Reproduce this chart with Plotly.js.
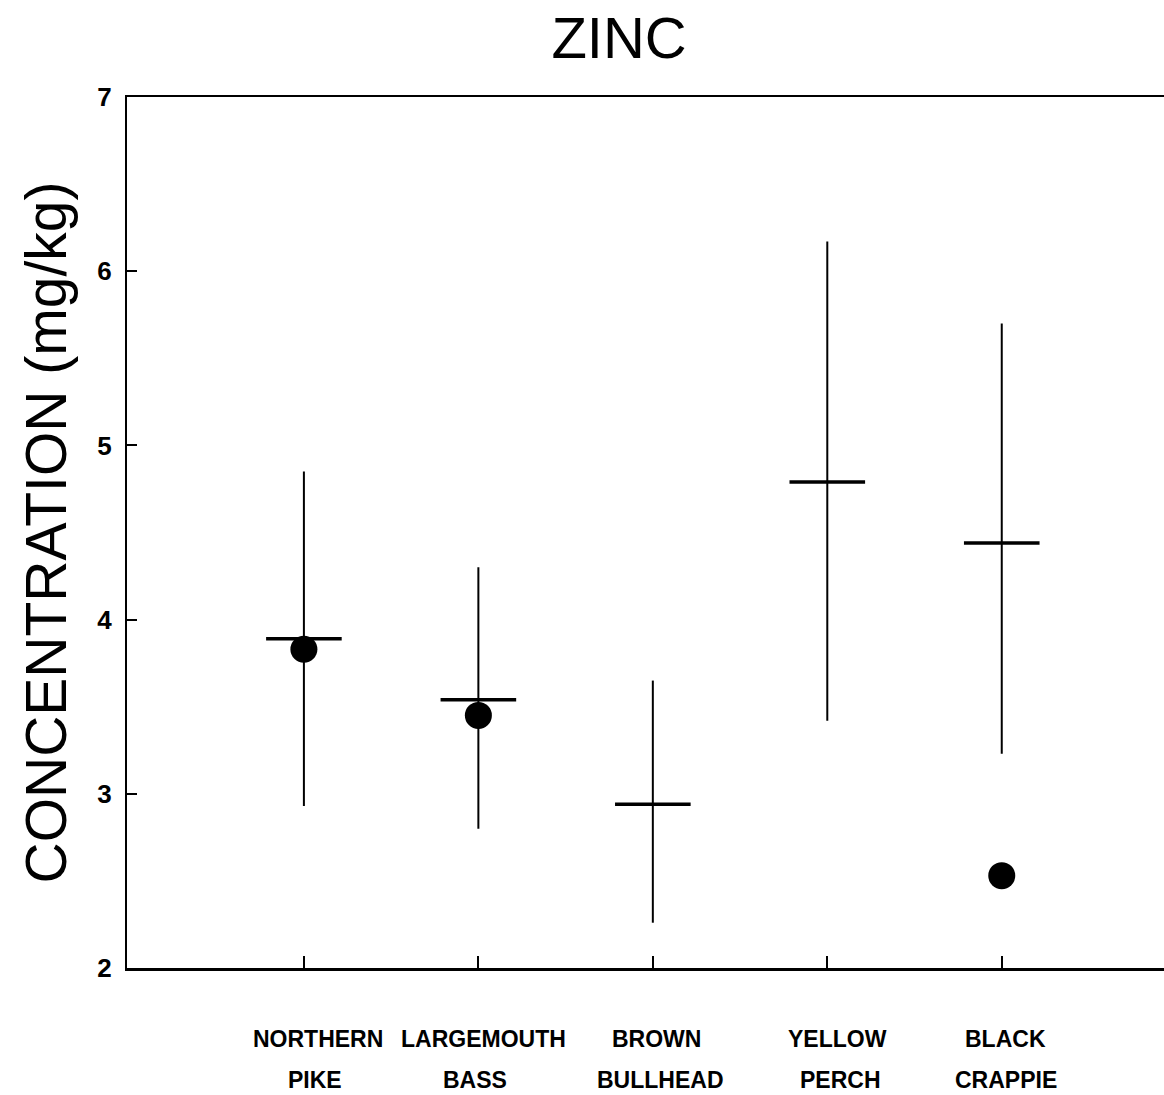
<!DOCTYPE html>
<html>
<head>
<meta charset="utf-8">
<script src="https://cdn.plot.ly/plotly-3.0.1.min.js"></script>
<style>html,body{margin:0;padding:0;background:#fff;}</style>
</head>
<body>
<div id="chart" style="width:1164px;height:1095px;"></div>
<script>
// Data
const species_line1 = ["NORTHERN", "LARGEMOUTH", "BROWN", "YELLOW", "BLACK"];
const species_line2 = ["PIKE", "BASS", "BULLHEAD", "PERCH", "CRAPPIE"];
const meanValues = [3.89, 3.54, 2.94, 4.79, 4.44];
const highValues = [4.85, 4.30, 3.65, 6.17, 5.70];
const lowValues  = [2.93, 2.80, 2.26, 3.42, 3.23];
const dotValues  = [3.83, 3.45, null, null, 2.53];
const yTicks = [2, 3, 4, 5, 6, 7];

// label placement offsets (pixels), layout only
const shift1 = [14, 5, 4, 10, 4];
const shift2 = [11, -3, 8, 13, 4];

const xIdx = species_line1.map((_, i) => i);

const traceRange = {
  x: xIdx,
  y: meanValues,
  type: "scatter",
  mode: "markers",
  marker: { symbol: "line-ew", size: 54, color: "#000", line: { color: "#000", width: 3.5 } },
  error_y: {
    type: "data",
    symmetric: false,
    array: highValues.map((h, i) => h - meanValues[i]),
    arrayminus: lowValues.map((l, i) => meanValues[i] - l),
    width: 0,
    thickness: 2,
    color: "#000"
  },
  hoverinfo: "skip",
  showlegend: false
};

const traceDots = {
  x: xIdx,
  y: dotValues,
  type: "scatter",
  mode: "markers",
  marker: { symbol: "circle", size: 27, color: "#000" },
  showlegend: false
};

const labelFont = { family: "Liberation Sans, Arial, sans-serif", size: 23, color: "#000", weight: "bold" };
const annotations = [];
xIdx.forEach(i => {
  annotations.push({
    x: i, xref: "x", y: -0.0815, yref: "paper", yanchor: "middle", xanchor: "center",
    xshift: shift1[i], borderpad: 0,
    text: species_line1[i], showarrow: false, font: labelFont
  });
  annotations.push({
    x: i, xref: "x", y: -0.1285, yref: "paper", yanchor: "middle", xanchor: "center",
    xshift: shift2[i], borderpad: 0,
    text: species_line2[i], showarrow: false, font: labelFont
  });
});

const layout = {
  width: 1164,
  height: 1095,
  paper_bgcolor: "#fff",
  plot_bgcolor: "#fff",
  margin: { l: 127, r: 0, t: 97, b: 127 },
  title: {
    text: "ZINC",
    font: { family: "Liberation Sans, Arial, sans-serif", size: 58, color: "#000" },
    x: 0.4745, xanchor: "center", xref: "paper",
    y: 0.966, yanchor: "middle", yref: "container"
  },
  xaxis: {
    range: [-1.014, 4.93],
    tickvals: xIdx,
    ticktext: xIdx.map(() => ""),
    showticklabels: false,
    ticks: "inside",
    ticklen: 12,
    tickwidth: 2,
    tickcolor: "#000",
    showline: true,
    linecolor: "#000",
    linewidth: 2.5,
    mirror: true,
    showgrid: false,
    zeroline: false
  },
  yaxis: {
    range: [2, 7],
    tickvals: yTicks,
    ticks: "inside",
    ticklen: 10,
    tickwidth: 2,
    tickcolor: "#000",
    showline: true,
    linecolor: "#000",
    linewidth: 2,
    showgrid: false,
    zeroline: false,
    ticklabelstandoff: 8,
    tickfont: { family: "Liberation Sans, Arial, sans-serif", size: 26, color: "#000", weight: "bold" },
    title: {
      text: "CONCENTRATION (mg/kg)",
      font: { family: "Liberation Sans, Arial, sans-serif", size: 57, color: "#000" },
      standoff: 12
    }
  },
  annotations: annotations
};

Plotly.newPlot("chart", [traceRange, traceDots], layout, { staticPlot: true, displayModeBar: false });
</script>
</body>
</html>
